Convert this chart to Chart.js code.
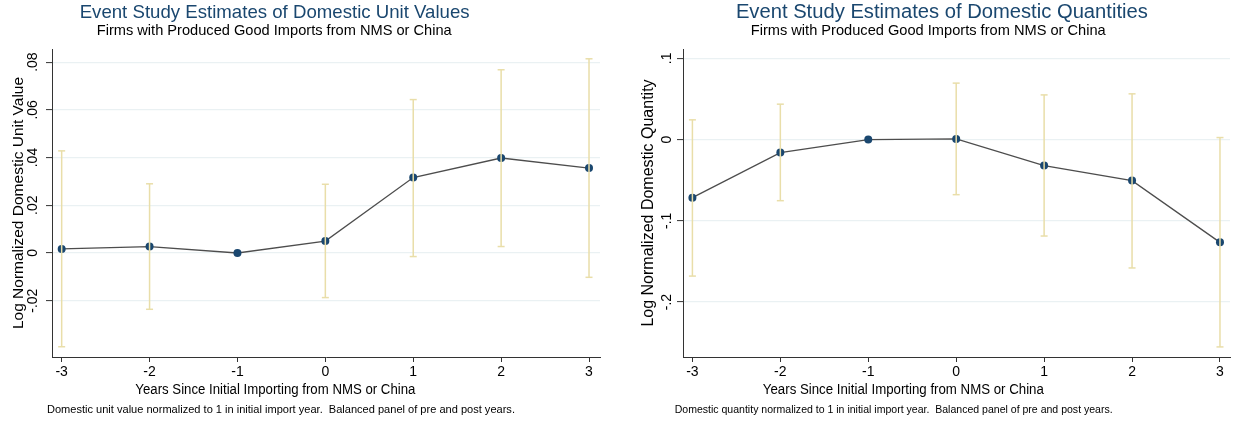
<!DOCTYPE html>
<html>
<head>
<meta charset="utf-8">
<script src="https://cdn.jsdelivr.net/npm/chart.js@4.4.1/dist/chart.umd.min.js"></script>
<style>
  html, body { margin:0; padding:0; background:#fff; }
  body { width:1241px; height:423px; position:relative; overflow:hidden; font-family:"Liberation Sans", Arial, sans-serif; }
  canvas { position:absolute; top:0; }
  .t { position:absolute; white-space:pre; line-height:1; transform-origin:center center; }
</style>
</head>
<body>
<canvas id="c1" width="620" height="423" style="left:0px"></canvas>
<canvas id="c2" width="621" height="423" style="left:620px"></canvas>
<script>
// ---- data ----
const years = [-3, -2, -1, 0, 1, 2, 3];

const unitValueEst  = [0.0017, 0.0027, 0, 0.0050, 0.0316, 0.0398, 0.0356];
const unitValueLow  = [-0.0393, -0.0236, null, -0.0187, -0.0015, 0.0027, -0.0102];
const unitValueHigh = [0.0428, 0.0290, null, 0.0288, 0.0643, 0.0768, 0.0814];

const quantityEst  = [-0.0715, -0.0160, 0, 0.0008, -0.0320, -0.0505, -0.1265];
const quantityLow  = [-0.1680, -0.0752, null, -0.0678, -0.1187, -0.1580, -0.2552];
const quantityHigh = [0.0243, 0.0436, null, 0.0695, 0.0550, 0.0563, 0.0025];

const unitValueTicks = [-0.02, 0, 0.02, 0.04, 0.06, 0.08];
const unitValueTickLabels = ['-.02', '0', '.02', '.04', '.06', '.08'];
const quantityTicks = [-0.2, -0.1, 0, 0.1];
const quantityTickLabels = ['-.2', '-.1', '0', '.1'];

const xTitle = 'Years Since Initial Importing from NMS or China';
const subTitle = 'Firms with Produced Good Imports from NMS or China';

// ---- texts (HTML) ----
function addText(str, cx, cy, size, color, targetW) {
  const d = document.createElement('div');
  d.className = 't';
  d.textContent = str;
  d.style.fontSize = size + 'px';
  d.style.color = color;
  document.body.appendChild(d);
  const w = d.getBoundingClientRect().width, h = d.getBoundingClientRect().height;
  d.style.left = (cx - w / 2) + 'px';
  d.style.top = (cy - h / 2) + 'px';
  if (targetW) d.style.transform = 'scaleX(' + (targetW / w) + ')';
}
addText('Event Study Estimates of Domestic Unit Values', 275, 12, 18.5, '#1a476f', 390);
addText(subTitle, 274, 30, 14.6, '#000', 355);
addText(xTitle, 275, 389, 14, '#000', 280);
addText('Domestic unit value normalized to 1 in initial import year.  Balanced panel of pre and post years.', 281, 409, 11, '#000', 468);

addText('Event Study Estimates of Domestic Quantities', 942, 12, 19.5, '#1a476f', 412);
addText(subTitle, 928, 30, 14.6, '#000', 355);
addText(xTitle, 903, 389, 14, '#000', 281);
addText('Domestic quantity normalized to 1 in initial import year.  Balanced panel of pre and post years.', 894, 409, 11, '#000', 438);

// ---- charts ----
const FONT = '"Liberation Sans", Arial, sans-serif';
const CI_COLOR = '#e9dea9';
const NAVY = '#1a476f';
const AXIS = '#333333';

function ciPoints(lo, hi) {
  const pts = [];
  years.forEach((x, i) => {
    if (lo[i] === null || hi[i] === null) return;
    pts.push({x: x, y: lo[i]}, {x: x, y: hi[i]}, {x: x, y: null});
  });
  return pts;
}

function makeChart(id, est, lo, hi, ticks, tickLabels, yTitle, cfg) {
  new Chart(document.getElementById(id), {
    type: 'line',
    data: {
      datasets: [
        {
          data: ciPoints(lo, hi),
          borderColor: CI_COLOR,
          borderWidth: 1.5,
          pointStyle: 'line',
          pointRadius: 3.5,
          pointBorderColor: CI_COLOR,
          pointBorderWidth: 1.5,
          spanGaps: false,
          order: 0
        },
        {
          data: years.map((x, i) => ({x: x, y: est[i]})),
          borderColor: '#4d4d4d',
          borderWidth: 1.3,
          pointRadius: 4,
          pointBackgroundColor: NAVY,
          pointBorderColor: NAVY,
          pointBorderWidth: 0,
          tension: 0,
          order: 1
        }
      ]
    },
    options: {
      responsive: false,
      animation: false,
      events: [],
      layout: { padding: { top: 49, right: cfg.padRight, bottom: 36, left: 0 } },
      plugins: { legend: { display: false }, title: { display: false }, tooltip: { enabled: false } },
      scales: {
        x: {
          type: 'linear',
          min: cfg.xmin, max: cfg.xmax,
          afterBuildTicks: s => { s.ticks = years.map(v => ({value: v})); },
          afterFit: s => { s.height = 30; },
          ticks: { font: { family: FONT, size: 14 }, color: '#000', padding: 2, maxRotation: 0,
                   callback: v => String(v) },
          grid: { drawOnChartArea: false, tickColor: AXIS, tickLength: 5, tickWidth: 1 },
          border: { color: AXIS, width: 1 }
        },
        y: {
          type: 'linear',
          min: cfg.ymin, max: cfg.ymax,
          afterBuildTicks: s => { s.ticks = ticks.map(v => ({value: v})); },
          afterFit: s => { s.width = cfg.yWidth; },
          ticks: {
            font: { family: FONT, size: 14 }, color: '#000',
            minRotation: 90, maxRotation: 90, crossAlign: 'center', padding: cfg.tickPad,
            callback: (v, i) => tickLabels[i]
          },
          grid: { color: '#eaf1f3', lineWidth: 1.2, tickColor: AXIS, tickLength: 6, tickWidth: 1 },
          border: { color: AXIS, width: 1 },
          title: { display: true, text: yTitle, color: '#000', font: { family: FONT, size: cfg.titleSize },
                   padding: { top: cfg.titlePad, bottom: 0 } }
        }
      }
    }
  });
}

makeChart('c1', unitValueEst, unitValueLow, unitValueHigh, unitValueTicks, unitValueTickLabels,
  'Log Normalized Domestic Unit Value',
  { xmin: -3.11, xmax: 3.125, ymin: -0.0436, ymax: 0.0855, yWidth: 52, padRight: 20, tickPad: 1, titlePad: 9, titleSize: 15.5 });

makeChart('c2', quantityEst, quantityLow, quantityHigh, quantityTicks, quantityTickLabels,
  'Log Normalized Domestic Quantity',
  { xmin: -3.107, xmax: 3.114, ymin: -0.2676, ymax: 0.1115, yWidth: 63, padRight: 11, tickPad: 2, titlePad: 19, titleSize: 16 });
</script>
</body>
</html>
